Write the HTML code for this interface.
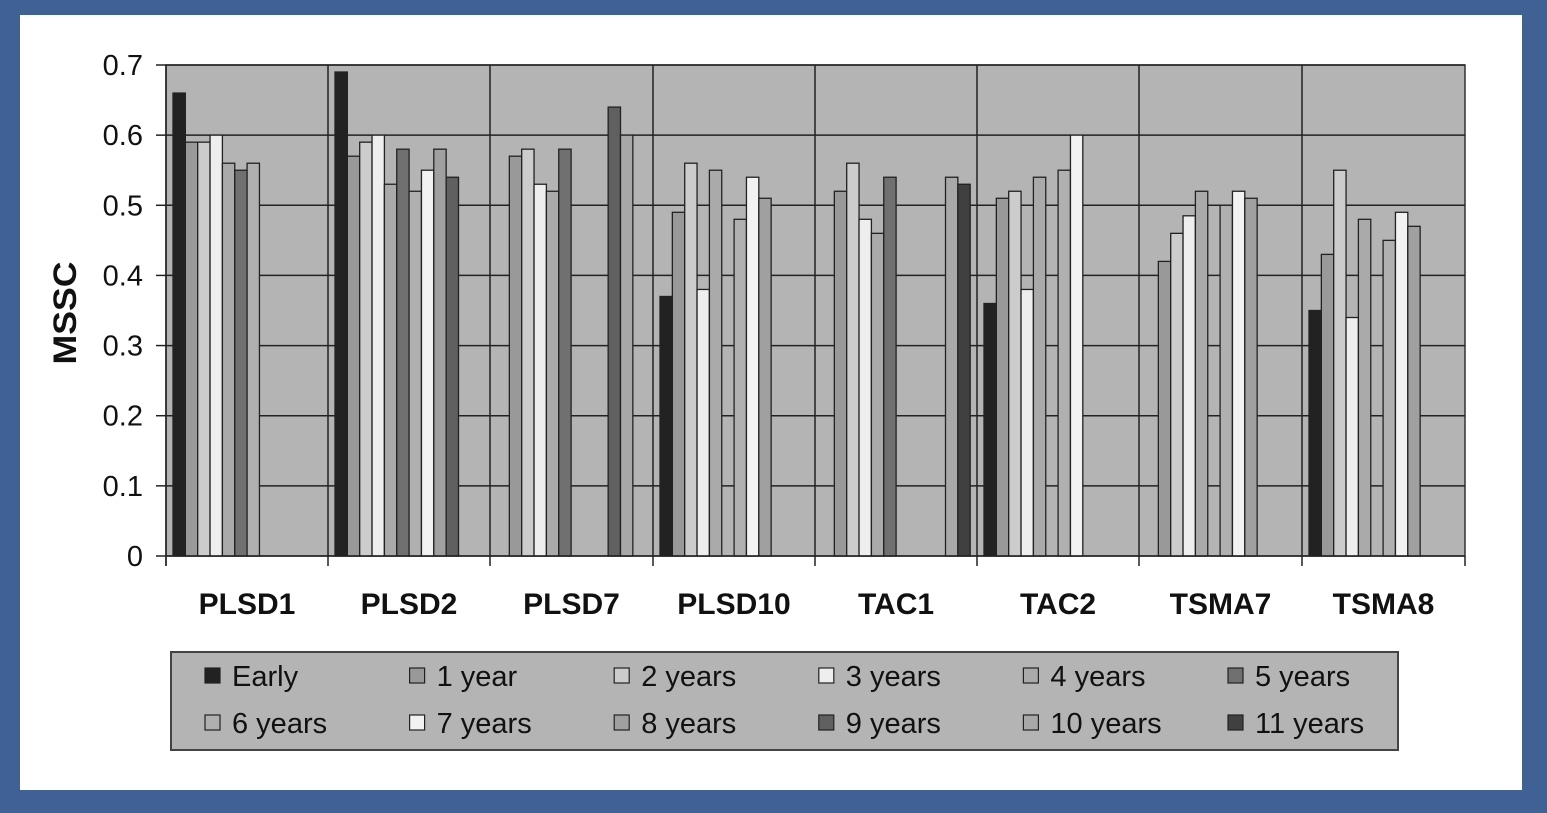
<!DOCTYPE html>
<html><head><meta charset="utf-8"><style>
html,body{margin:0;padding:0;background:#3f6194;}
svg{display:block;}
text{font-family:"Liberation Sans",Arial,sans-serif;fill:#111;}
</style></head><body>
<svg id="s" width="1547" height="813" xmlns="http://www.w3.org/2000/svg">
<rect x="0" y="0" width="1547" height="813" fill="#3f6194"/>
<rect x="20" y="15" width="1502" height="775" fill="#fff"/>
<rect x="166" y="65" width="1299" height="491" fill="#b4b4b4" stroke="#333" stroke-width="1.5"/>
<g id="grid"></g>
<g id="bars"></g>
<g id="axis"></g>
<text x="76" y="313" font-size="32" font-weight="bold" text-anchor="middle" textLength="103" lengthAdjust="spacingAndGlyphs" transform="rotate(-90 76 313)">MSSC</text>
<rect x="171" y="652" width="1227" height="98" fill="#b4b4b4" stroke="#444" stroke-width="2"/>
<g id="legend"></g>
</svg>
<script>
var NS="http://www.w3.org/2000/svg";
function el(p,t,a,txt){var e=document.createElementNS(NS,t);for(var k in a)e.setAttribute(k,a[k]);if(txt)e.textContent=txt;document.getElementById(p).appendChild(e);}
var y0=556,yt=65,sc=(y0-yt)/0.7;
function Y(v){return y0-v*sc;}
for(var i=1;i<=7;i++){el("grid","line",{x1:166,x2:1465,y1:Y(i/10),y2:Y(i/10),stroke:"#222","stroke-width":1.5});}
var gx=[166,328,490,653,815,977,1139,1302,1465];
for(var i=1;i<8;i++)el("grid","line",{x1:gx[i],x2:gx[i],y1:65,y2:556,stroke:"#222","stroke-width":1.5});
for(var i=0;i<=7;i++){el("axis","line",{x1:156,x2:166,y1:Y(i/10),y2:Y(i/10),stroke:"#222","stroke-width":1.5});
el("axis","text",{x:143,y:Y(i/10)+10,"font-size":29,"text-anchor":"end"},i==0?"0":(i/10).toFixed(1));}
el("axis","line",{x1:166,x2:166,y1:65,y2:566,stroke:"#222","stroke-width":1.5});
el("axis","line",{x1:166,x2:1465,y1:556,y2:556,stroke:"#222","stroke-width":1.5});
for(var i=0;i<9;i++)el("axis","line",{x1:gx[i],x2:gx[i],y1:556,y2:566,stroke:"#222","stroke-width":1.5});
var names=["PLSD1","PLSD2","PLSD7","PLSD10","TAC1","TAC2","TSMA7","TSMA8"];
for(var i=0;i<8;i++)el("axis","text",{x:(gx[i]+gx[i+1])/2,y:614,"font-size":30,"font-weight":"bold","text-anchor":"middle"},names[i]);
var col=["#222","#999","#ccc","#eee","#aaa","#707070","#b0b0b0","#f2f2f2","#a0a0a0","#606060","#a8a8a8","#404040"];
var N=null;
var data=[
[0.66,0.59,0.59,0.60,0.56,0.55,0.56,N,N,N,N,N],
[0.69,0.57,0.59,0.60,0.53,0.58,0.52,0.55,0.58,0.54,N,N],
[N,0.57,0.58,0.53,0.52,0.58,N,N,N,0.64,0.60,N],
[0.37,0.49,0.56,0.38,0.55,N,0.48,0.54,0.51,N,N,N],
[N,0.52,0.56,0.48,0.46,0.54,N,N,N,N,0.54,0.53],
[0.36,0.51,0.52,0.38,0.54,N,0.55,0.60,N,N,N,N],
[N,0.42,0.46,0.485,0.52,N,0.50,0.52,0.51,N,N,N],
[0.35,0.43,0.55,0.34,0.48,N,0.45,0.49,0.47,N,N,N]];
for(var g=0;g<8;g++)for(var k=0;k<12;k++){var v=data[g][k];if(v==null)continue;
var x=gx[g]+7+k*12.35;el("bars","rect",{x:x,y:Y(v),width:12.35,height:y0-Y(v),fill:col[k],stroke:"#222","stroke-width":1.3});}
var lab=["Early","1 year","2 years","3 years","4 years","5 years","6 years","7 years","8 years","9 years","10 years","11 years"];
for(var k=0;k<12;k++){var c=k%6,r=Math.floor(k/6);var x=205+c*204.6,y=r?723:676;
el("legend","rect",{x:x,y:y-8,width:15,height:15,fill:col[k],stroke:"#222","stroke-width":1.2});
el("legend","text",{x:x+27,y:y+10,"font-size":29},lab[k]);}
</script>
</body></html>
